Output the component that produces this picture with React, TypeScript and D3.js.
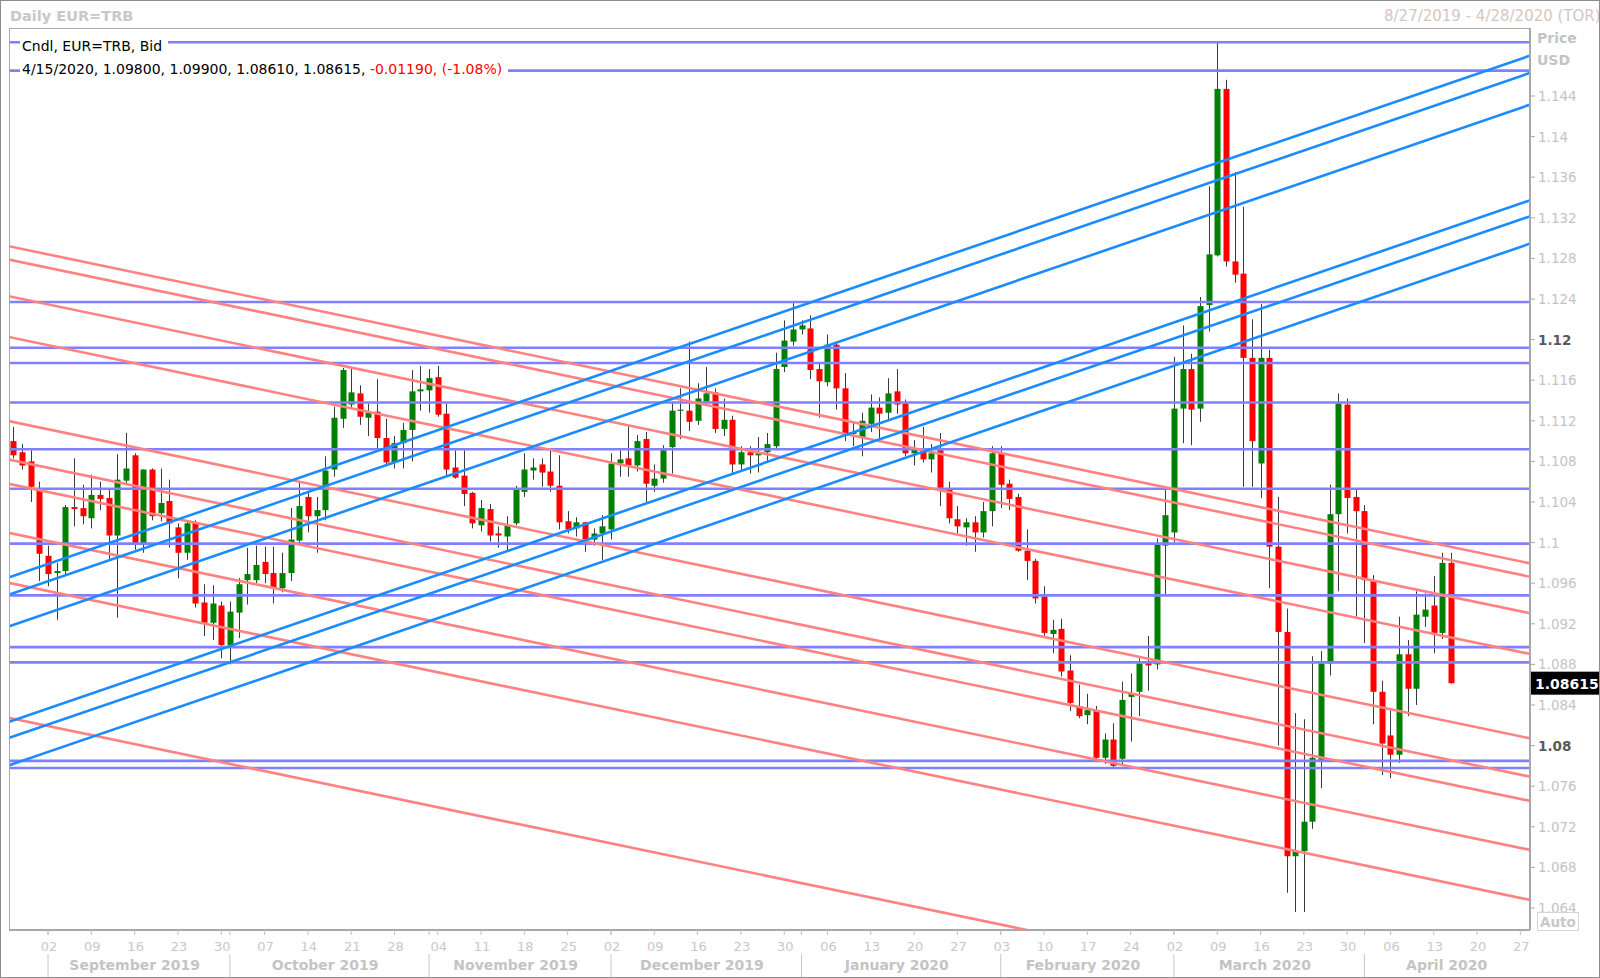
import React from 'react';
import * as d3 from 'd3';

const WIDTH = 1600;
const HEIGHT = 978;
const PLOT = { left: 9, right: 1530, top: 28, bottom: 930 };
const FONT = '"DejaVu Sans", Verdana, sans-serif';

const FIRST_DAY = new Date(2019, 7, 27);
const LAST_DAY = new Date(2020, 3, 28);

// daily bars, 8/27/2019 .. 4/15/2020 (weekdays)
const OPEN = [
  1.1100, 1.1089, 1.1080, 1.1052, 1.0987, 1.0970, 1.0972, 1.1035, 1.1034, 1.1024,
  1.1047, 1.1044, 1.1007, 1.1061, 1.1086, 1.0999, 1.1072, 1.1029, 1.1041, 1.1015,
  1.0990, 1.1020, 1.0941, 1.0921, 1.0938, 1.0899, 1.0931, 1.0963, 1.0963, 1.0981,
  1.0970, 1.0955, 1.0970, 1.1002, 1.1045, 1.1026, 1.1032, 1.1072, 1.1122, 1.1136,
  1.1147, 1.1123, 1.1129, 1.1103, 1.1079, 1.1098, 1.1111, 1.1149, 1.1150, 1.1163,
  1.1127, 1.1074, 1.1066, 1.1049, 1.1017, 1.1033, 1.1009, 1.1006, 1.1019, 1.1050,
  1.1071, 1.1077, 1.1070, 1.1056, 1.1021, 1.1014, 1.1020, 1.1003, 1.1009, 1.1013,
  1.1078, 1.1083, 1.1076, 1.1102, 1.1056, 1.1063, 1.1094, 1.1130, 1.1130, 1.1120,
  1.1139, 1.1148, 1.1112, 1.1121, 1.1077, 1.1089, 1.1086, 1.1089, 1.1095, 1.1173,
  1.1198, 1.1210, 1.1211, 1.1171, 1.1158, 1.1195, 1.1152, 1.1107, 1.1104, 1.1117,
  1.1133, 1.1128, 1.1149, 1.1137, 1.1088, 1.1090, 1.1082, 1.1091, 1.1052, 1.1023,
  1.1015, 1.1020, 1.1010, 1.1031, 1.1088, 1.1058, 1.1045, 1.0992, 1.0982, 1.0947,
  1.0910, 1.0915, 1.0874, 1.0839, 1.0830, 1.0835, 1.0788, 1.0806, 1.0787, 1.0848,
  1.0853, 1.0882, 1.0880, 1.0997, 1.1010, 1.1132, 1.1171, 1.1132, 1.1234, 1.1283,
  1.1447, 1.1277, 1.1265, 1.1182, 1.1078, 1.1182, 1.0996, 1.0912, 1.0691, 1.0696,
  1.0725, 1.0786, 1.0881, 1.1028, 1.1136, 1.1045, 1.1031, 1.0963, 1.0853, 1.0810,
  1.0791, 1.0890, 1.0856, 1.0927, 1.0938, 1.0911, 1.0980,
];
const HIGH = [
  1.1114, 1.1097, 1.1091, 1.1060, 1.0997, 1.0980, 1.1037, 1.1083, 1.1057, 1.1067,
  1.1060, 1.1052, 1.1087, 1.1108, 1.1088, 1.1072, 1.1073, 1.1073, 1.1062, 1.1019,
  1.1022, 1.1022, 1.0959, 1.0958, 1.0942, 1.0942, 1.0965, 1.0995, 1.0997, 1.0996,
  1.0996, 1.0990, 1.1034, 1.1060, 1.1050, 1.1045, 1.1085, 1.1134, 1.1172, 1.1171,
  1.1155, 1.1137, 1.1161, 1.1122, 1.1105, 1.1118, 1.1170, 1.1174, 1.1171, 1.1174,
  1.1137, 1.1091, 1.1091, 1.1050, 1.1042, 1.1038, 1.1016, 1.1026, 1.1056, 1.1088,
  1.1083, 1.1083, 1.1091, 1.1086, 1.1031, 1.1025, 1.1020, 1.1014, 1.1027, 1.1088,
  1.1091, 1.1115, 1.1106, 1.1109, 1.1077, 1.1096, 1.1139, 1.1152, 1.1198, 1.1157,
  1.1173, 1.1152, 1.1142, 1.1125, 1.1095, 1.1095, 1.1104, 1.1108, 1.1187, 1.1219,
  1.1236, 1.1219, 1.1224, 1.1178, 1.1205, 1.1198, 1.1167, 1.1119, 1.1128, 1.1146,
  1.1143, 1.1162, 1.1171, 1.1141, 1.1101, 1.1114, 1.1097, 1.1108, 1.1060, 1.1036,
  1.1024, 1.1026, 1.1040, 1.1095, 1.1095, 1.1062, 1.1048, 1.1013, 1.0984, 1.0957,
  1.0924, 1.0925, 1.0889, 1.0860, 1.0851, 1.0839, 1.0812, 1.0822, 1.0863, 1.0871,
  1.0886, 1.0908, 1.1004, 1.1052, 1.1183, 1.1214, 1.1186, 1.1242, 1.1351, 1.1493,
  1.1456, 1.1365, 1.1331, 1.1220, 1.1235, 1.1190, 1.1045, 1.0935, 1.0832, 1.0826,
  1.0888, 1.0893, 1.1057, 1.1147, 1.1142, 1.1052, 1.1037, 1.0968, 1.0864, 1.0835,
  1.0927, 1.0904, 1.0952, 1.0950, 1.0967, 1.0990, 1.0990,
];
const LOW = [
  1.1083, 1.1072, 1.1040, 1.0962, 1.0957, 1.0924, 1.0967, 1.1016, 1.1018, 1.1014,
  1.1032, 1.0983, 1.0926, 1.1058, 1.0993, 1.0990, 1.1022, 1.1021, 1.0995, 1.0965,
  1.0983, 1.0936, 1.0908, 1.0904, 1.0886, 1.0880, 1.0906, 1.0939, 1.0960, 1.0960,
  1.0940, 1.0951, 1.0962, 1.0999, 1.1010, 1.0990, 1.1022, 1.1065, 1.1113, 1.1132,
  1.1116, 1.1105, 1.1093, 1.1075, 1.1073, 1.1073, 1.1080, 1.1130, 1.1128, 1.1124,
  1.1065, 1.1063, 1.1036, 1.1014, 1.1011, 1.1001, 1.0995, 1.0991, 1.1017, 1.1045,
  1.1062, 1.1055, 1.1050, 1.1013, 1.1009, 1.1006, 1.0991, 1.0997, 1.0983, 1.1003,
  1.1065, 1.1065, 1.1070, 1.1038, 1.1050, 1.1059, 1.1068, 1.1102, 1.1110, 1.1116,
  1.1137, 1.1108, 1.1105, 1.1068, 1.1070, 1.1068, 1.1069, 1.1080, 1.1093, 1.1168,
  1.1194, 1.1205, 1.1161, 1.1123, 1.1154, 1.1131, 1.1100, 1.1095, 1.1085, 1.1109,
  1.1103, 1.1121, 1.1127, 1.1085, 1.1076, 1.1079, 1.1069, 1.1036, 1.1019, 1.1009,
  1.0997, 1.0991, 1.1005, 1.1016, 1.1034, 1.1032, 1.0991, 1.0963, 1.0940, 1.0908,
  1.0891, 1.0868, 1.0834, 1.0827, 1.0821, 1.0786, 1.0782, 1.0778, 1.0781, 1.0804,
  1.0829, 1.0854, 1.0875, 1.0949, 1.1000, 1.1098, 1.1096, 1.1119, 1.1208, 1.1282,
  1.1272, 1.1256, 1.1055, 1.1055, 1.1044, 1.0955, 1.0800, 1.0655, 1.0636, 1.0636,
  1.0718, 1.0758, 1.0869, 1.0952, 1.1009, 1.0927, 1.0901, 1.0821, 1.0771, 1.0768,
  1.0783, 1.0829, 1.0840, 1.0917, 1.0891, 1.0905, 1.0861,
];
const CLOSE = [
  1.1086, 1.1076, 1.1055, 1.0989, 1.0969, 1.0972, 1.1035, 1.1033, 1.1026, 1.1047,
  1.1043, 1.1007, 1.1062, 1.1073, 1.0999, 1.1072, 1.1026, 1.1039, 1.1019, 1.0990,
  1.1019, 1.0940, 1.0921, 1.0940, 1.0899, 1.0932, 1.0959, 1.0969, 1.0978, 1.0969,
  1.0955, 1.0970, 1.1003, 1.1036, 1.1026, 1.1032, 1.1071, 1.1123, 1.1170, 1.1148,
  1.1124, 1.1128, 1.1103, 1.1079, 1.1098, 1.1111, 1.1149, 1.1151, 1.1162, 1.1126,
  1.1072, 1.1064, 1.1048, 1.1019, 1.1034, 1.1007, 1.1007, 1.1017, 1.1052, 1.1072,
  1.1074, 1.1069, 1.1056, 1.1020, 1.1013, 1.1020, 1.1003, 1.1009, 1.1016, 1.1078,
  1.1082, 1.1076, 1.1100, 1.1058, 1.1063, 1.1091, 1.1130, 1.1131, 1.1119, 1.1142,
  1.1147, 1.1112, 1.1121, 1.1077, 1.1089, 1.1086, 1.1088, 1.1097, 1.1171, 1.1199,
  1.1210, 1.1214, 1.1170, 1.1159, 1.1195, 1.1152, 1.1108, 1.1109, 1.1120, 1.1133,
  1.1127, 1.1147, 1.1136, 1.1088, 1.1092, 1.1082, 1.1088, 1.1054, 1.1024, 1.1016,
  1.1020, 1.1010, 1.1031, 1.1088, 1.1057, 1.1043, 1.0992, 1.0982, 1.0945, 1.0911,
  1.0914, 1.0873, 1.0842, 1.0829, 1.0835, 1.0788, 1.0806, 1.0780, 1.0845, 1.0851,
  1.0881, 1.0879, 1.0998, 1.1027, 1.1132, 1.1171, 1.1131, 1.1233, 1.1284, 1.1447,
  1.1277, 1.1264, 1.1182, 1.1100, 1.1182, 1.0996, 1.0912, 1.0691, 1.0696, 1.0725,
  1.0788, 1.0881, 1.1028, 1.1137, 1.1044, 1.1031, 1.0963, 1.0853, 1.0802, 1.0791,
  1.0890, 1.0856, 1.0929, 1.0934, 1.0911, 1.0980, 1.08615,
];

// horizontal support / resistance levels
const LEVELS = [
  1.1493, 1.1465, 1.1237, 1.1192, 1.1177, 1.1138, 1.1092,
  1.1053, 1.0999, 1.0948, 1.0897, 1.0882, 1.0785, 1.0778,
];
// trend lines as [price on 8/27/2019, price on 4/28/2020]
const UP_TRENDS = [
  [1.09673, 1.14794],
  [1.09503, 1.14624],
  [1.0919, 1.14311],
  [1.08248, 1.13369],
  [1.0809, 1.13211],
  [1.07821, 1.12942],
];
const DOWN_TRENDS = [
  [1.12911, 1.09798],
  [1.12779, 1.09666],
  [1.12418, 1.09306],
  [1.12017, 1.08905],
  [1.11187, 1.08074],
  [1.10809, 1.07696],
  [1.10569, 1.07457],
  [1.10087, 1.06974],
  [1.09594, 1.06482],
  [1.08264, 1.05152],
];

const PRICE_TICKS = [
  1.064, 1.068, 1.072, 1.076, 1.08, 1.084, 1.088, 1.092, 1.096, 1.1, 1.104,
  1.108, 1.112, 1.116, 1.12, 1.124, 1.128, 1.132, 1.136, 1.14, 1.144,
];
const BOLD_TICKS = [1.12, 1.08];

const LAST_BAR = ['4/15/2020', '1.09800', '1.09900', '1.08610', '1.08615'];
const LAST_CHANGE = ['-0.01190', '(-1.08%)'];
const LAST_PRICE = 1.08615;

export default function App() {
  const days = d3
    .timeDay.range(FIRST_DAY, d3.timeDay.offset(LAST_DAY, 1))
    .filter((d) => d.getDay() !== 0 && d.getDay() !== 6);
  const lastIdx = days.length - 1;

  const x = d3.scaleLinear().domain([0, lastIdx]).range([13.4, 1529]);
  const y = d3.scaleLinear().domain([1.064, 1.144]).range([908, 96]);

  const bodyW = 6;

  const mondays = days
    .map((d, i) => ({ d, i }))
    .filter((e) => e.d.getDay() === 1);

  // months too short to carry a label (the partial August) are left out
  const months = d3
    .groups(
      days.map((d, i) => ({ d, i })),
      (e) => d3.timeMonth(e.d).getTime()
    )
    .filter(([, arr]) => arr.length > 5);
  const monthFmt = d3.timeFormat('%B %Y');
  const dayFmt = d3.timeFormat('%d');

  const candles = OPEN.map((o, i) => {
    const c = CLOSE[i];
    const up = c >= o;
    const top = y(Math.max(o, c));
    const bot = y(Math.min(o, c));
    const cx = Math.round(x(i));
    return (
      <g key={i}>
        <line
          x1={cx + 0.5}
          x2={cx + 0.5}
          y1={y(HIGH[i])}
          y2={y(LOW[i])}
          stroke="#3a3a3a"
          strokeWidth={1}
        />
        <rect
          x={cx + 0.5 - bodyW / 2}
          y={top}
          width={bodyW}
          height={Math.max(1.2, bot - top)}
          fill={up ? '#008000' : '#ff0000'}
        />
      </g>
    );
  });

  const trend = (p: number[], color: string, k: string) => (
    <line
      key={k}
      x1={x(0) - 20}
      x2={x(lastIdx) + 20}
      y1={y(p[0]) - ((y(p[1]) - y(p[0])) / (x(lastIdx) - x(0))) * 20}
      y2={y(p[1]) + ((y(p[1]) - y(p[0])) / (x(lastIdx) - x(0))) * 20}
      stroke={color}
      strokeWidth={2.6}
    />
  );

  return (
    <svg
      width={WIDTH}
      height={HEIGHT}
      style={{ position: 'absolute', left: 0, top: 0, background: '#fff' }}
      fontFamily={FONT}
    >
      <defs>
        <clipPath id="plot-clip">
          <rect
            x={PLOT.left}
            y={PLOT.top}
            width={PLOT.right - PLOT.left}
            height={PLOT.bottom - PLOT.top}
          />
        </clipPath>
      </defs>
      <rect x={0} y={0} width={WIDTH} height={HEIGHT} fill="#fff" />

      {/* titles */}
      <text x={10} y={21} fontSize={14.5} fontWeight="bold" fill="#c8c8c8">
        Daily EUR=TRB
      </text>
      <text x={1384} y={21} fontSize={15} fill="#d6c6be">
        8/27/2019 - 4/28/2020 (TOR)
      </text>

      <g clipPath="url(#plot-clip)">
        {candles}
        {LEVELS.map((p, i) => (
          <line
            key={'h' + i}
            x1={PLOT.left}
            x2={PLOT.right}
            y1={y(p)}
            y2={y(p)}
            stroke="#8080ff"
            strokeWidth={2.6}
          />
        ))}
        {DOWN_TRENDS.map((p, i) => trend(p, '#ff8282', 'r' + i))}
        {UP_TRENDS.map((p, i) => trend(p, '#1a8cff', 'b' + i))}
      </g>

      {/* header */}
      <rect x={20} y={36} width={148} height={19} fill="#fff" />
      <text x={22} y={51} fontSize={14} fill="#000">
        Cndl, EUR=TRB, Bid
      </text>
      <rect x={20} y={60} width={488} height={19} fill="#fff" />
      <text x={22} y={74} fontSize={14} fill="#000">
        {LAST_BAR.join(', ') + ', '}
        <tspan fill="#ff0000">{LAST_CHANGE.join(', ')}</tspan>
      </text>

      {/* frame */}
      <line x1={PLOT.left + 0.5} x2={PLOT.left + 0.5} y1={PLOT.top} y2={PLOT.bottom} stroke="#a8a8a8" />
      <line x1={PLOT.left} x2={PLOT.right} y1={PLOT.top + 0.5} y2={PLOT.top + 0.5} stroke="#a8a8a8" />
      <line x1={PLOT.left} x2={PLOT.right} y1={PLOT.bottom} y2={PLOT.bottom} stroke="#a8a8a8" strokeWidth={2} />
      <line x1={PLOT.right} x2={PLOT.right} y1={PLOT.top} y2={PLOT.bottom} stroke="#a8a8a8" strokeWidth={2} />

      {/* price axis */}
      <text x={1537} y={43} fontSize={14} fontWeight="bold" fill="#c4c4c4">
        Price
      </text>
      <text x={1537} y={65} fontSize={14} fontWeight="bold" fill="#c4c4c4">
        USD
      </text>
      {PRICE_TICKS.map((t) => {
        const bold = BOLD_TICKS.includes(t);
        return (
          <g key={'t' + t}>
            <line x1={PLOT.right} x2={PLOT.right + 5} y1={y(t)} y2={y(t)} stroke="#a8a8a8" />
            <text
              x={1538}
              y={y(t) + 5}
              fontSize={13.5}
              fontWeight={bold ? 'bold' : 'normal'}
              fill={bold ? '#5a5a5a' : '#c4c4c4'}
            >
              {String(+t.toFixed(3))}
            </text>
          </g>
        );
      })}
      <rect x={1531} y={y(LAST_PRICE) - 11.5} width={69} height={23} fill="#000" />
      <text x={1535} y={y(LAST_PRICE) + 5.5} fontSize={14} fontWeight="bold" fill="#fff">
        {LAST_PRICE.toFixed(5)}
      </text>
      <rect x={1537.5} y={912.5} width={41} height={18} fill="#fff" stroke="#d4d4d4" />
      <text x={1540} y={927} fontSize={13.5} fontWeight="bold" fill="#c8c8c8">
        Auto
      </text>

      {/* time axis */}
      {mondays.map((e) => (
        <g key={'d' + e.i}>
          <line x1={x(e.i)} x2={x(e.i)} y1={PLOT.bottom} y2={PLOT.bottom + 5} stroke="#c0c0c0" />
          <text x={x(e.i) + 1} y={951} fontSize={13} fill="#c8c8c8" textAnchor="middle">
            {dayFmt(e.d)}
          </text>
        </g>
      ))}
      {months.map(([key, arr]) => {
        const a = x(arr[0].i);
        const b = x(Math.min(arr[arr.length - 1].i, lastIdx));
        return (
          <g key={'m' + key}>
            <line x1={a} x2={a} y1={PLOT.bottom} y2={PLOT.bottom + 5} stroke="#c0c0c0" />
            <line x1={a} x2={a} y1={954} y2={HEIGHT} stroke="#c8c8c8" />
            <text
              x={(a + b) / 2}
              y={970}
              fontSize={14}
              fontWeight="bold"
              fill="#c4c4c4"
              textAnchor="middle"
            >
              {monthFmt(arr[0].d)}
            </text>
          </g>
        );
      })}

      <rect x={0.5} y={0.5} width={WIDTH - 1} height={HEIGHT - 1} fill="none" stroke="#8c8c8c" />
    </svg>
  );
}
